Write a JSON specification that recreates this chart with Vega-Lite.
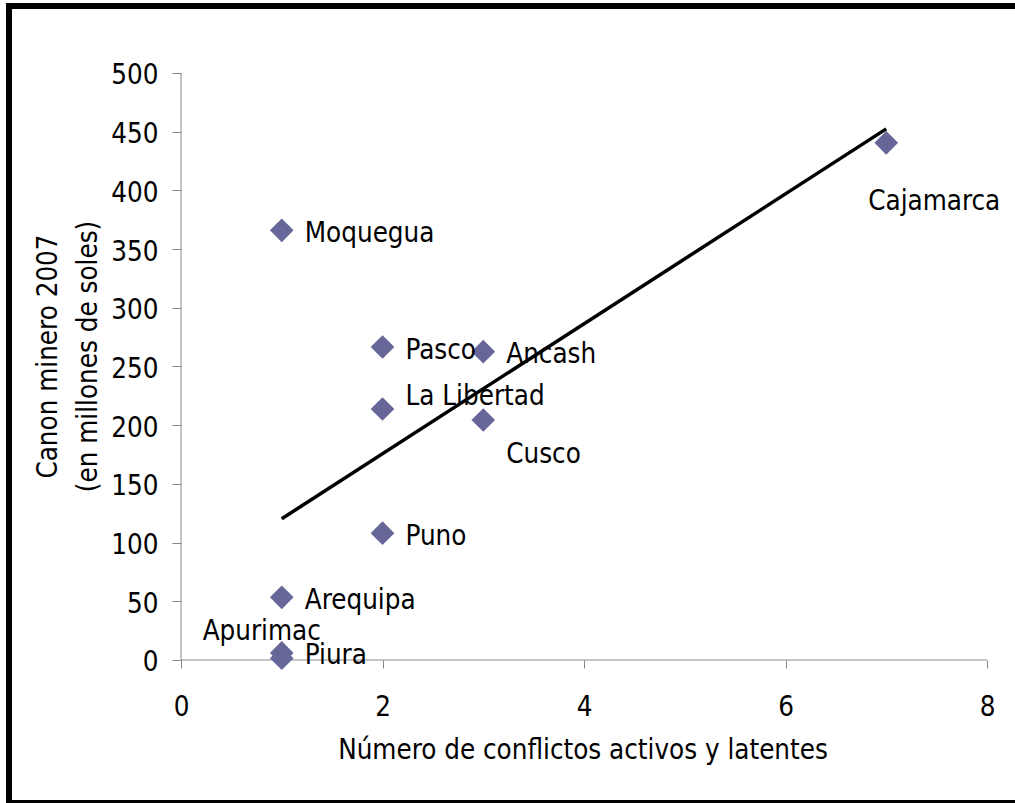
{
  "$schema": "https://vega.github.io/schema/vega-lite/v6.json",
  "width": 1006,
  "height": 797,
  "autosize": {"type": "none"},
  "padding": {"left": 9, "top": 6, "right": 0, "bottom": 0},
  "background": "white",
  "config": {
    "view": {"stroke": null},
    "font": "DejaVu Sans Condensed, DejaVu Sans, sans-serif",
    "axis": {
      "grid": false,
      "domain": false,
      "tickColor": "#888888",
      "tickWidth": 1,
      "labelColor": "black",
      "labelFontSize": 27.5,
      "titleFontSize": 27.5,
      "titleFontWeight": "normal",
      "titleColor": "black"
    }
  },
  "datasets": {
    "axislines": [
      {"x": 0, "x2": 0, "y": 0, "y2": 500},
      {"x": 0, "x2": 8, "y": 0, "y2": 0}
    ],
    "frame": [
      {"x": -1.7072, "x2": -1.7072, "y": -121.81, "y2": 557.07},
      {"x": -1.7072, "x2": 8.4, "y": 557.07, "y2": 557.07},
      {"x": -1.7072, "x2": 8.4, "y": -121.81, "y2": -121.81}
    ]
  },
  "data": {
    "values": [
      {"region": "Moquegua", "conflictos": 1, "canon": 366},
      {"region": "Pasco", "conflictos": 2, "canon": 266.6},
      {"region": "Ancash", "conflictos": 3, "canon": 262.6},
      {"region": "La Libertad", "conflictos": 2, "canon": 213.8},
      {"region": "Cusco", "conflictos": 3, "canon": 204.4},
      {"region": "Cajamarca", "conflictos": 7, "canon": 440.5},
      {"region": "Puno", "conflictos": 2, "canon": 108},
      {"region": "Arequipa", "conflictos": 1, "canon": 53.4},
      {"region": "Apurimac", "conflictos": 1, "canon": 6},
      {"region": "Piura", "conflictos": 1, "canon": 1.5}
    ]
  },
  "encoding": {
    "x": {
      "field": "conflictos",
      "type": "quantitative",
      "scale": {"domain": [-1.7072, 8.2779], "nice": false, "zero": false},
      "axis": {
        "orient": "bottom",
        "offset": -143,
        "values": [0, 2, 4, 6, 8],
        "tickSize": 8,
        "labelPadding": 25,
        "title": "Número de conflictos activos y latentes",
        "titleX": 573.5,
        "titleY": 90,
        "titleAlign": "center",
        "titleBaseline": "middle"
      }
    },
    "y": {
      "field": "canon",
      "type": "quantitative",
      "scale": {"domain": [-121.81, 557.07], "nice": false, "zero": false},
      "axis": {
        "orient": "left",
        "offset": -172,
        "values": [0, 50, 100, 150, 200, 250, 300, 350, 400, 450, 500],
        "tickSize": 9,
        "labelPadding": 14,
        "labelOffset": 3,
        "title": ["Canon minero 2007", "(en millones de soles)"],
        "titleX": -133,
        "titleY": 350,
        "titleAngle": 270,
        "titleAlign": "center",
        "titleBaseline": "middle",
        "titleLineHeight": 40
      }
    }
  },
  "layer": [
    {
      "data": {"name": "frame"},
      "mark": {"type": "rule", "color": "black", "strokeWidth": 6, "strokeCap": "square"},
      "encoding": {
        "x": {"field": "x", "type": "quantitative"},
        "x2": {"field": "x2"},
        "y": {"field": "y", "type": "quantitative"},
        "y2": {"field": "y2"}
      }
    },
    {
      "data": {"name": "axislines"},
      "mark": {"type": "rule", "color": "#888888", "strokeWidth": 1},
      "encoding": {
        "x": {"field": "x", "type": "quantitative"},
        "x2": {"field": "x2"},
        "y": {"field": "y", "type": "quantitative"},
        "y2": {"field": "y2"}
      }
    },
    {
      "mark": {"type": "point", "shape": "diamond", "filled": true, "color": "#666699", "size": 560, "opacity": 1}
    },
    {
      "transform": [{"regression": "canon", "on": "conflictos"}],
      "mark": {"type": "line", "color": "black", "strokeWidth": 3.5}
    },
    {
      "transform": [{"filter": {"field": "region", "oneOf": ["Moquegua", "Pasco", "Ancash", "Puno", "Arequipa"]}}],
      "mark": {"type": "text", "align": "left", "baseline": "middle", "dx": 23, "dy": 3.5, "fontSize": 27.5, "color": "black"},
      "encoding": {"text": {"field": "region"}}
    },
    {
      "transform": [{"filter": {"field": "region", "equal": "Piura"}}],
      "mark": {"type": "text", "align": "left", "baseline": "middle", "dx": 23, "dy": -2, "fontSize": 27.5, "color": "black"},
      "encoding": {"text": {"field": "region"}}
    },
    {
      "transform": [{"filter": {"field": "region", "equal": "La Libertad"}}],
      "mark": {"type": "text", "align": "left", "baseline": "middle", "dx": 23, "dy": -12, "fontSize": 27.5, "color": "black"},
      "encoding": {"text": {"field": "region"}}
    },
    {
      "transform": [{"filter": {"field": "region", "equal": "Cusco"}}],
      "mark": {"type": "text", "align": "left", "baseline": "middle", "dx": 23, "dy": 35, "fontSize": 27.5, "color": "black"},
      "encoding": {"text": {"field": "region"}}
    },
    {
      "transform": [{"filter": {"field": "region", "equal": "Cajamarca"}}],
      "mark": {"type": "text", "align": "center", "baseline": "middle", "dx": 48, "dy": 59, "fontSize": 27.5, "color": "black"},
      "encoding": {"text": {"field": "region"}}
    },
    {
      "transform": [{"filter": {"field": "region", "equal": "Apurimac"}}],
      "mark": {"type": "text", "align": "center", "baseline": "middle", "dx": -20, "dy": -21, "fontSize": 27.5, "color": "black"},
      "encoding": {"text": {"field": "region"}}
    }
  ]
}
